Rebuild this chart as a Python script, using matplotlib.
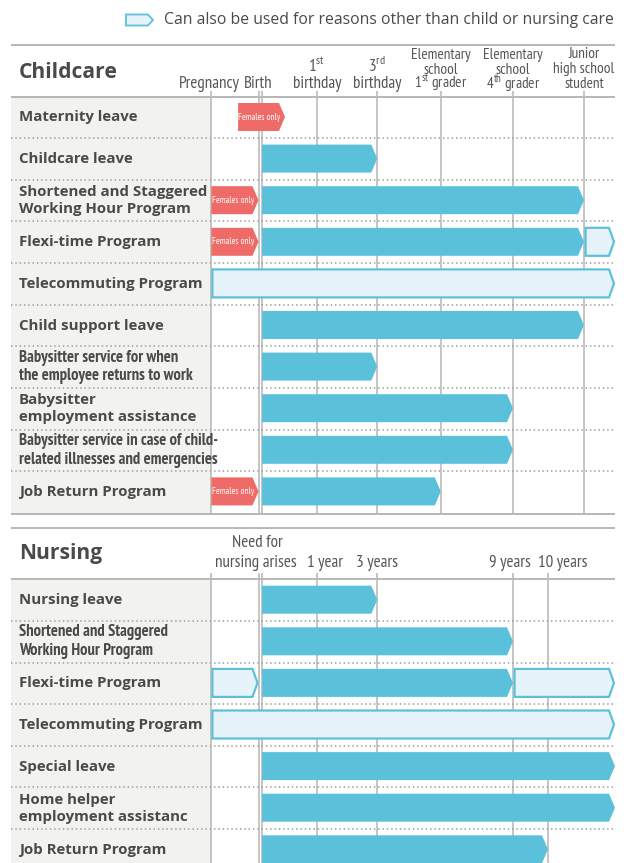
import matplotlib.pyplot as plt
from matplotlib.patches import Polygon, Rectangle

plt.rcParams['mathtext.fontset'] = 'custom'
plt.rcParams['mathtext.rm'] = 'PT Sans Narrow'

# --- data -----------------------------------------------------------------
care_rows = [
    "Maternity leave",
    "Childcare leave",
    "Shortened and Staggered\nWorking Hour Program",
    "Flexi-time Program",
    "Telecommuting Program",
    "Child support leave",
    "Babysitter service for when\nthe employee returns to work",
    "Babysitter\nemployment assistance",
    "Babysitter service in case of child-\nrelated illnesses and emergencies",
    "Job Return Program",
]
# (row, from, to, kind)  kind: main / female / other
care_bars = [
    (0, "pre_birth", "post_birth", "female"),
    (1, "birth", "3rd_bday", "main"),
    (2, "pregnancy", "birth", "female"),
    (2, "birth", "junior_high", "main"),
    (3, "pregnancy", "birth", "female"),
    (3, "birth", "junior_high", "main"),
    (3, "junior_high", "end", "other"),
    (4, "pregnancy", "end", "other"),
    (5, "birth", "junior_high", "main"),
    (6, "birth", "3rd_bday", "main"),
    (7, "birth", "elem_4th", "main"),
    (8, "birth", "elem_4th", "main"),
    (9, "pregnancy", "birth", "female"),
    (9, "birth", "elem_1st", "main"),
]

nurse_rows = [
    "Nursing leave",
    "Shortened and Staggered\nWorking Hour Program",
    "Flexi-time Program",
    "Telecommuting Program",
    "Special leave",
    "Home helper\nemployment assistanc",
    "Job Return Program",
]
nurse_bars = [
    (0, "need", "3_years", "main"),
    (1, "need", "9_years", "main"),
    (2, "start", "need", "other"),
    (2, "need", "9_years", "main"),
    (2, "9_years", "end", "other"),
    (3, "start", "end", "other"),
    (4, "need", "end", "main"),
    (5, "need", "end", "main"),
    (6, "need", "10_years", "main"),
]

# rows whose label is set in the narrow face
care_narrow = {6, 8}
nurse_narrow = {1}

# --- layout (pixel units) -------------------------------------------------
W, H = 627, 863
LEFT, PANEL, RIGHT = 11, 210.8, 615
ROW_H = 41.6
BAR_H = 28

# milestone columns: (left line, right line)
care_x = {
    "pregnancy": (210.8, 210.8), "pre_birth": (237.5, 237.5),
    "birth": (258.5, 261.5), "post_birth": (285, 285),
    "1st_bday": (317.3, 317.3), "3rd_bday": (377.3, 377.3),
    "elem_1st": (440.8, 440.8), "elem_4th": (513, 513),
    "junior_high": (584, 584), "end": (615, 615),
}
care_lines = ["pregnancy", "birth", "1st_bday", "3rd_bday", "elem_1st", "elem_4th", "junior_high"]

nurse_x = {
    "start": (210.8, 210.8), "need": (258.5, 261.5),
    "1_year": (317.3, 317.3), "3_years": (377.3, 377.3),
    "9_years": (513, 513), "10_years": (548, 548), "end": (615, 615),
}
nurse_lines = ["start", "need", "1_year", "3_years", "9_years", "10_years"]

BLUE = "#5bc1da"
LIGHT = "#e6f3fa"
RED = "#ee6b67"
GRID = "#b8b8b8"
PANEL_BG = "#f2f2ee"
TEXT = "#4a4a4a"

LABEL_FONT = ["Open Sans", "DejaVu Sans"]
NARROW_FONT = ["PT Sans Narrow", "DejaVu Sans"]

fig = plt.figure(figsize=(W / 100, H / 100), dpi=100)
ax = fig.add_axes([0, 0, 1, 1])
ax.set_xlim(0, W)
ax.set_ylim(H, 0)
ax.axis("off")


def pt(px):
    return px * 0.72


def arrow(x0, x1, yc, face, edge=None, lw=0.0, tip=6, height=BAR_H):
    h = height / 2
    pts = [(x0, yc - h), (x1 - tip, yc - h), (x1, yc), (x1 - tip, yc + h), (x0, yc + h)]
    ax.add_patch(Polygon(pts, closed=True, fc=face, ec=edge if edge else face,
                         lw=lw, joinstyle="miter", zorder=3))


def hline(y, **kw):
    ax.plot([LEFT, RIGHT], [y, y], solid_capstyle="butt", **kw)


def draw_section(top, head_bottom, bottom, title, title_y, rows, narrow, bars, xmap, lines):
    # frame and label panel
    for y in (top, head_bottom, bottom):
        if y < H:
            hline(y, color=GRID, lw=pt(2), zorder=2)
    ax.add_patch(Rectangle((LEFT, head_bottom), PANEL - LEFT, bottom - head_bottom,
                           fc=PANEL_BG, ec="none", zorder=0))
    ax.text(19, title_y, title, fontsize=pt(21), fontweight="bold", color=TEXT,
            family=LABEL_FONT, va="center", ha="left")

    # milestone lines, starting as short ticks in the header
    for key in lines:
        xl, xr = xmap[key]
        for x in sorted({xl, xr}):
            ax.plot([x, x], [head_bottom - 6, bottom], color=GRID, lw=pt(1.6), zorder=1,
                    solid_capstyle="butt")

    # dotted row separators
    for i in range(1, len(rows)):
        hline(head_bottom + i * ROW_H, color="#a8a8a8", lw=pt(1.8),
              linestyle=(0, (0.8, 1.6)), zorder=1.5)

    # row labels
    for i, label in enumerate(rows):
        yc = head_bottom + (i + 0.5) * ROW_H
        if i in narrow:
            ax.text(19, yc, label, fontsize=pt(16.5), fontweight="bold", color=TEXT,
                    family=NARROW_FONT, va="center", ha="left", linespacing=1.22)
        else:
            ax.text(19, yc, label, fontsize=pt(15), fontweight="bold", color=TEXT,
                    family=LABEL_FONT, va="center", ha="left", linespacing=1.3)

    # bars
    for row, start, end, kind in bars:
        yc = head_bottom + (row + 0.5) * ROW_H - 0.5
        x0 = xmap[start][1] + 0.6
        x1 = xmap[end][0]
        if kind == "main":
            arrow(x0, x1, yc, BLUE)
        elif kind == "female":
            arrow(x0, x1, yc, RED)
            ax.text((x0 + x1 - 4) / 2, yc, "Females only", fontsize=pt(9.3), color="white",
                    family=NARROW_FONT, va="center", ha="center", zorder=4)
        else:
            arrow(x0 + 1, x1 - 1, yc, LIGHT, edge=BLUE, lw=pt(2.2), tip=5)


# legend line at the top
arrow(126, 153, 20, LIGHT, edge=BLUE, lw=pt(1.8), tip=5, height=11)
ax.text(614, 20, "Can also be used for reasons other than child or nursing care",
        fontsize=pt(15.8), color=TEXT, family=LABEL_FONT, va="center", ha="right")

HEAD = dict(color="#555555", family=NARROW_FONT, ha="center", va="baseline", zorder=4)
big, small = pt(17), pt(15.3)

# --- childcare ------------------------------------------------------------
draw_section(45, 96.7, 513.8, "Childcare", 72, care_rows, care_narrow, care_bars,
             care_x, care_lines)

ax.text(209, 87.5, "Pregnancy", fontsize=big, **HEAD)
ax.text(258, 87.5, "Birth", fontsize=big, **HEAD)
for x, num, sup in [(317, "1", "st"), (377, "3", "rd")]:
    ax.text(x, 72, num + "$^{\\mathrm{" + sup + "}}$", fontsize=big, **HEAD)
    ax.text(x, 87.5, "birthday", fontsize=big, **HEAD)
for x, num, sup in [(441, "1", "st"), (513, "4", "th")]:
    ax.text(x, 58.5, "Elementary", fontsize=small, **HEAD)
    ax.text(x, 73.5, "school", fontsize=small, **HEAD)
    ax.text(x, 88.5, num + "$^{\\mathrm{" + sup + "}}$ grader", fontsize=small, **HEAD)
ax.text(584, 58.5, "Junior", fontsize=small, **HEAD)
ax.text(584, 73.5, "high school", fontsize=small, **HEAD)
ax.text(584, 88.5, "student", fontsize=small, **HEAD)

# --- nursing --------------------------------------------------------------
draw_section(527.7, 579.4, 900, "Nursing", 553, nurse_rows, nurse_narrow, nurse_bars,
             nurse_x, nurse_lines)
ax.text(257, 547, "Need for", fontsize=big, **HEAD)
ax.text(256, 567, "nursing arises", fontsize=big, **HEAD)
for x, lab in [(325, "1 year"), (377, "3 years"), (510, "9 years"), (563, "10 years")]:
    ax.text(x, 567, lab, fontsize=big, **HEAD)

fig.savefig("out.png", dpi=100)
